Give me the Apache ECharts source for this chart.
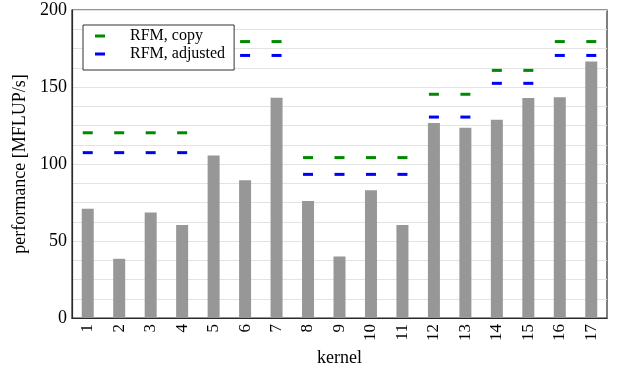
<!DOCTYPE html>
<html>
<head>
<meta charset="utf-8">
<script src="https://cdn.jsdelivr.net/npm/echarts@6/dist/echarts.min.js"></script>
<style>
  html, body { margin: 0; padding: 0; background: #fff; }
  #chart { width: 617px; height: 372px; }
</style>
</head>
<body>
<div id="chart"></div>
<script>
// Kernels on the x axis
const kernels = ['1','2','3','4','5','6','7','8','9','10','11','12','13','14','15','16','17'];
// Measured performance per kernel [MFLUP/s]
const measured = [71, 38.5, 68.5, 60.5, 105.5, 89.5, 143, 76, 40, 83, 60.5, 126.7, 123.5, 128.7, 142.8, 143.4, 166.6];
// Roofline model predictions (kernel 5 has none)
const rfmCopy = [120.3, 120.3, 120.3, 120.3, null, 179.5, 179.5, 104.2, 104.2, 104.2, 104.2, 145.3, 145.3, 160.8, 160.8, 179.5, 179.5];
const rfmAdjusted = [107.4, 107.4, 107.4, 107.4, null, 170.5, 170.5, 93.3, 93.3, 93.3, 93.3, 130.5, 130.5, 152.4, 152.4, 170.5, 170.5];
// Y axis range and labelled ticks
const yMin = 0, yMax = 200, yStep = 50;

const FONT = 'Liberation Serif';
const chart = echarts.init(document.getElementById('chart'), null, { renderer: 'canvas' });

chart.setOption({
  animation: false,
  backgroundColor: '#fff',
  textStyle: { fontFamily: FONT, color: '#000' },
  grid: {
    left: 72, right: 10, top: 10, bottom: 51,
    show: true, borderColor: '#2a2a2a', borderWidth: 1.2, backgroundColor: 'transparent'
  },
  legend: {
    orient: 'vertical',
    left: 83, top: 25,
    padding: [3, 9, 8, 12],
    itemGap: 2,
    itemWidth: 10, itemHeight: 3,
    borderColor: '#333', borderWidth: 1, backgroundColor: '#fff',
    formatter: name => '{gap|}' + name,
    textStyle: {
      fontFamily: FONT, fontSize: 16, color: '#000',
      rich: { gap: { width: 20 } }
    },
    data: [
      { name: 'RFM, copy', icon: 'rect' },
      { name: 'RFM, adjusted', icon: 'rect' }
    ]
  },
  xAxis: {
    type: 'category',
    data: kernels,
    boundaryGap: true,
    name: 'kernel',
    nameLocation: 'middle',
    nameGap: 29,
    nameTextStyle: { fontFamily: FONT, fontSize: 18, color: '#000' },
    axisLine: { lineStyle: { color: '#2a2a2a', width: 1.2 } },
    axisTick: { show: false },
    axisLabel: { rotate: 90, margin: 6, fontFamily: FONT, fontSize: 17, color: '#000' },
    splitLine: { show: false }
  },
  yAxis: {
    type: 'value',
    min: yMin, max: yMax, interval: yStep,
    name: 'performance [MFLUP/s]',
    nameLocation: 'middle',
    nameGap: 37,
    nameTextStyle: { fontFamily: FONT, fontSize: 18, color: '#000' },
    axisLine: { show: true, lineStyle: { color: '#2a2a2a', width: 1.2 } },
    axisTick: { show: false },
    axisLabel: { margin: 5, fontFamily: FONT, fontSize: 18, color: '#000' },
    splitLine: { show: true, lineStyle: { color: '#e3e3e3', width: 1.2 } },
    minorTick: { show: false, splitNumber: 4 },
    minorSplitLine: { show: true, lineStyle: { color: '#e3e3e3', width: 1.2 } }
  },
  series: [
    {
      name: 'measured',
      type: 'bar',
      data: measured,
      barWidth: 12,
      itemStyle: { color: '#979797' },
      z: 2
    },
    {
      name: 'RFM, copy',
      type: 'scatter',
      data: rfmCopy,
      symbol: 'rect',
      symbolSize: [10, 3],
      itemStyle: { color: '#008a00', opacity: 1 },
      z: 3
    },
    {
      name: 'RFM, adjusted',
      type: 'scatter',
      data: rfmAdjusted,
      symbol: 'rect',
      symbolSize: [10, 3],
      itemStyle: { color: '#0000ff', opacity: 1 },
      z: 3
    }
  ]
});
</script>
</body>
</html>
